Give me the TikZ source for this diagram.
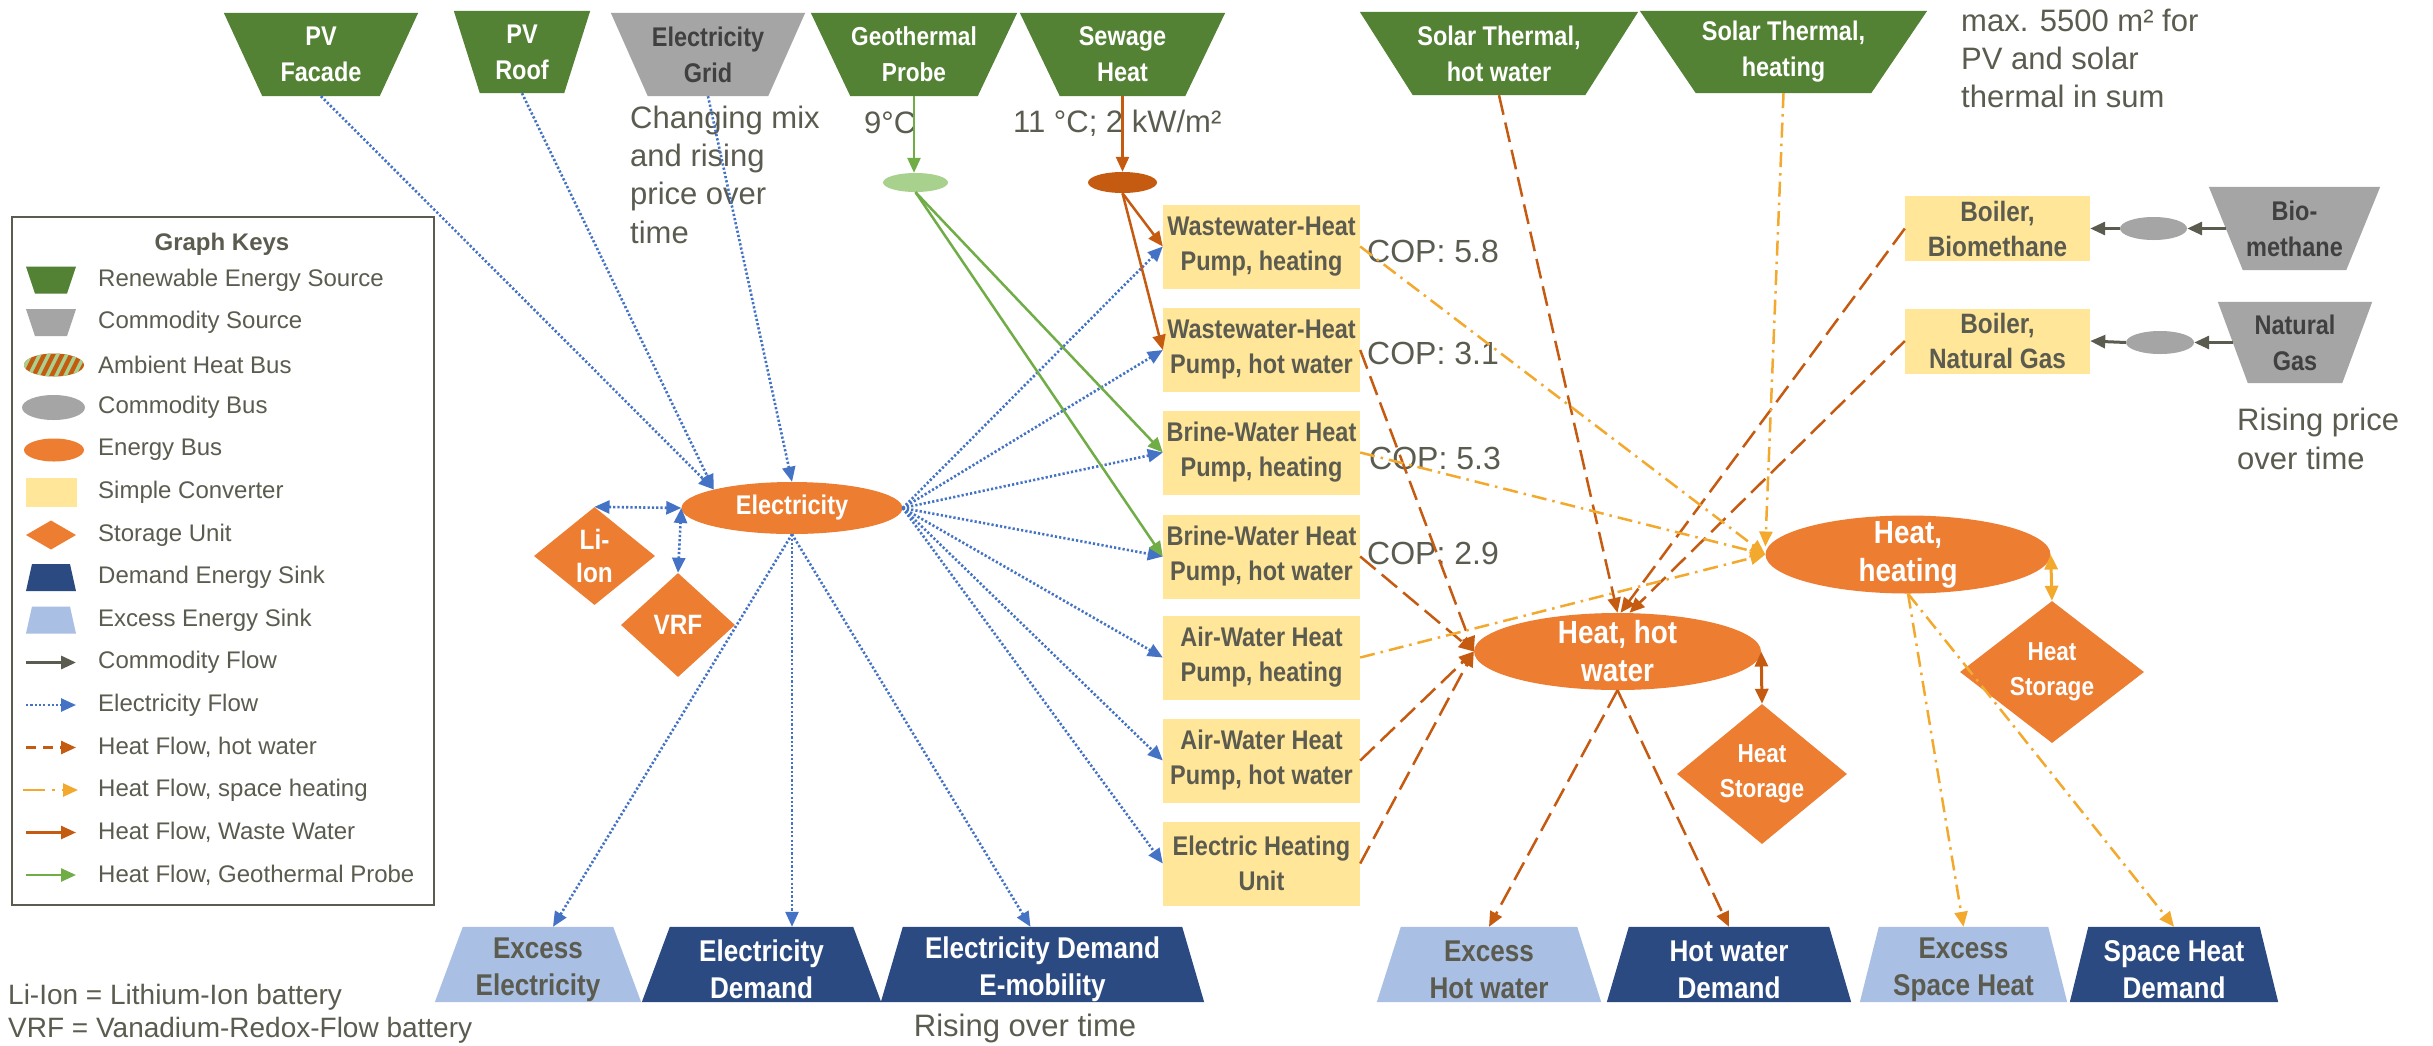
\documentclass[tikz,border=0pt]{standalone}
\usepackage{fontspec}
\setmainfont{Liberation Sans}
\newfontfamily\nodefont[FakeStretch=0.87]{Liberation Sans}
\usetikzlibrary{arrows.meta,shapes.geometric,backgrounds}
\definecolor{srcgreen}{HTML}{548235}
\definecolor{comgray}{HTML}{A5A5A5}
\definecolor{busorange}{HTML}{ED7D31}
\definecolor{convyellow}{HTML}{FFE699}
\definecolor{demblue}{HTML}{2B4A82}
\definecolor{excblue}{HTML}{A9BFE3}
\definecolor{txtgray}{HTML}{5B5B4F}
\definecolor{darktxt}{HTML}{404040}
\definecolor{elblue}{HTML}{4472C4}
\definecolor{hwbrown}{HTML}{C55A11}
\definecolor{shyellow}{HTML}{F2A92E}
\definecolor{geogreen}{HTML}{70AD47}
\definecolor{geolight}{HTML}{A9D18E}
\newcommand\srctrap[3]{\fill[#2] (#1.north west) -- (#1.north east) -- ([xshift=-#3pt]#1.south east) -- ([xshift=#3pt]#1.south west) -- cycle;}
\newcommand\sinktrap[3]{\fill[#2] ([xshift=#3pt]#1.north west) -- ([xshift=-#3pt]#1.north east) -- (#1.south east) -- (#1.south west) -- cycle;}
\tikzset{
  lbl/.style={font=\nodefont\bfseries\fontsize{27}{36}\selectfont, align=center, inner sep=0pt},
  lblw/.style={lbl, text=white},
  lblg/.style={lbl, text=txtgray},
  lblS/.style={lbl, font=\nodefont\bfseries\fontsize{30}{37}\selectfont, yshift=-5pt},
  lblH/.style={lblw, font=\nodefont\bfseries\fontsize{32}{38}\selectfont},
  lblHS/.style={lblw, font=\nodefont\bfseries\fontsize{26}{35}\selectfont},
  lblL/.style={lblw, font=\nodefont\bfseries\fontsize{28}{33}\selectfont},
  lblG/.style={lblw, font=\nodefont\bfseries\fontsize{26}{36}\selectfont},
  ann/.style={font=\fontsize{31}{38.3}\selectfont, text=txtgray, align=left, inner sep=0pt},
  keytxt/.style={font=\fontsize{24}{28}\selectfont, text=txtgray, anchor=west, inner sep=0pt},
  rbox/.style={rectangle, inner sep=0pt, draw=none},
  sinkbox/.style={rbox, minimum height=75pt},
  conv/.style={rbox, fill=convyellow, minimum width=197pt, minimum height=84pt, lblg, font=\nodefont\bfseries\fontsize{27}{35}\selectfont},
  boiler/.style={rbox, fill=convyellow, minimum width=185pt, minimum height=65pt, lblg, font=\nodefont\bfseries\fontsize{28}{35}\selectfont},
  bus/.style={ellipse, inner sep=0pt, draw=none, fill=busorange},
  stor/.style={diamond, inner sep=0pt, draw=none, fill=busorange},
  arr/.style={-{Triangle[length=15pt,width=13pt]}},
  dtip/.style={{Triangle[length=15pt,width=13pt]}-{Triangle[length=15pt,width=13pt]}},
  elflow/.style={draw=elblue, line width=2.6pt, dash pattern=on 2.2pt off 2.1pt},
  hwflow/.style={draw=hwbrown, line width=2.5pt, dash pattern=on 20pt off 8pt},
  shflow/.style={draw=shyellow, line width=2.5pt, dash pattern=on 15pt off 6pt on 2.5pt off 6pt},
  wwflow/.style={draw=hwbrown, line width=2.5pt},
  gtflow/.style={draw=geogreen, line width=2.5pt},
  cmflow/.style={draw=txtgray, line width=3pt},
}
\begin{document}
\begin{tikzpicture}[x=1pt,y=-1pt]
\useasboundingbox (0,0) rectangle (2433,1045);
\begin{scope}[on background layer]
  \fill[white] (0,0) rectangle (2433,1045);
\end{scope}

% ---------- sources ----------
\node[rbox, minimum width=194pt, minimum height=83pt, lblw] (pvf) at (321,54.5) {PV\\Facade};
\node[rbox, minimum width=136pt, minimum height=82pt, lblw] (pvr) at (522,52) {PV\\Roof};
\node[rbox, minimum width=194pt, minimum height=83pt, lbl, text=darktxt] (grid) at (708,54.5) {Electricity\\Grid};
\node[rbox, minimum width=206pt, minimum height=83pt, lblG] (geo) at (914,54.5) {Geothermal\\Probe};
\node[rbox, minimum width=205pt, minimum height=83pt, lblw] (sew) at (1122.5,54.5) {Sewage\\Heat};
\node[rbox, minimum width=278pt, minimum height=83pt, lblw] (sthw) at (1499,53.5) {Solar Thermal,\\hot water};
\node[rbox, minimum width=287pt, minimum height=82pt, lblw] (sth) at (1783.5,52) {Solar Thermal,\\heating};
\node[rbox, minimum width=171pt, minimum height=83pt, lbl, text=darktxt] (bms) at (2294.5,228.5) {Bio-\\methane};
\node[rbox, minimum width=154pt, minimum height=81pt, lbl, text=darktxt] (ngs) at (2295,342.5) {Natural\\Gas};

% ---------- sinks ----------
\node[sinkbox, minimum width=206pt, label={[lblS, text=txtgray]center:{Excess\\Electricity}}] (exel) at (538,964.5) {};
\node[sinkbox, minimum width=239pt, label={[lblS, text=white]center:{Electricity\\Demand}}] (edem) at (761.5,964.5) {};
\node[sinkbox, minimum width=323pt, label={[lblS, text=white]center:{Electricity Demand\\E-mobility}}] (emob) at (1042.5,964.5) {};
\node[sinkbox, minimum width=224pt, label={[lblS, text=txtgray]center:{Excess\\Hot water}}] (exhw) at (1489,964.5) {};
\node[sinkbox, minimum width=244pt, label={[lblS, text=white]center:{Hot water\\Demand}}] (hwd) at (1729,964.5) {};
\node[sinkbox, minimum width=207pt, label={[lblS, text=txtgray]center:{Excess\\Space Heat}}] (exsh) at (1963.5,964.5) {};
\node[sinkbox, minimum width=208pt, label={[lblS, text=white]center:{Space Heat\\Demand}}] (shd) at (2174,964.5) {};

\begin{scope}[on background layer]
  \srctrap{pvf}{srcgreen}{38.5}
  \srctrap{pvr}{srcgreen}{26}
  \srctrap{grid}{comgray}{37}
  \srctrap{geo}{srcgreen}{39.5}
  \srctrap{sew}{srcgreen}{40}
  \srctrap{sthw}{srcgreen}{53}
  \srctrap{sth}{srcgreen}{56}
  \srctrap{bms}{comgray}{34}
  \srctrap{ngs}{comgray}{30}
  \sinktrap{exel}{excblue}{28}
  \sinktrap{edem}{demblue}{28}
  \sinktrap{emob}{demblue}{22}
  \sinktrap{exhw}{excblue}{24}
  \sinktrap{hwd}{demblue}{22}
  \sinktrap{exsh}{excblue}{19}
  \sinktrap{shd}{demblue}{18.5}
\end{scope}

% ---------- converters ----------
\node[conv] (wwh) at (1261.5,246.5) {Wastewater-Heat\\Pump, heating};
\node[conv] (wwhw) at (1261.5,350) {Wastewater-Heat\\Pump, hot water};
\node[conv] (bwh) at (1261.5,452.5) {Brine-Water Heat\\Pump, heating};
\node[conv] (bwhw) at (1261.5,556.5) {Brine-Water Heat\\Pump, hot water};
\node[conv] (awh) at (1261.5,657.5) {Air-Water Heat\\Pump, heating};
\node[conv] (awhw) at (1261.5,760.5) {Air-Water Heat\\Pump, hot water};
\node[conv] (ehu) at (1261.5,863.5) {Electric Heating\\Unit};
\node[boiler] (bbio) at (1997.5,228.5) {Boiler,\\Biomethane};
\node[boiler] (bng) at (1997.5,341) {Boiler,\\Natural Gas};

% ---------- buses ----------
\node[bus, minimum width=221pt, minimum height=52pt, label={[lblw]center:Electricity}] (elec) at (792,508) {};
\node[bus, minimum width=287pt, minimum height=77pt, label={[lblH]center:{Heat, hot\\water}}] (hhw) at (1617.5,651.5) {};
\node[bus, minimum width=285pt, minimum height=78pt, label={[lblH]center:{Heat,\\heating}}] (hh) at (1908,554.5) {};
\node[bus, fill=geolight, minimum width=65pt, minimum height=19pt] (geobus) at (915.5,182.5) {};
\node[bus, fill=hwbrown, minimum width=69pt, minimum height=21pt] (sewbus) at (1122.5,182.5) {};
\node[bus, fill=comgray, minimum width=67pt, minimum height=23pt] (bmbus) at (2153.5,228.5) {};
\node[bus, fill=comgray, minimum width=68pt, minimum height=23pt] (ngbus) at (2160,342.5) {};

% ---------- storages ----------
\node[stor, minimum width=121pt, minimum height=98pt, label={[lblL]center:{Li-\\Ion}}] (li) at (594.5,556) {};
\node[stor, minimum width=114pt, minimum height=104pt, label={[lblL]center:VRF}] (vrf) at (678,625) {};
\node[stor, minimum width=170pt, minimum height=140pt, label={[lblHS]center:{Heat\\Storage}}] (hsthw) at (1762,774) {};
\node[stor, minimum width=184pt, minimum height=142pt, label={[lblHS]center:{Heat\\Storage}}] (hsth) at (2052,672) {};

% ---------- annotations ----------
\node[ann, anchor=west] (chg) at (630,174.5) {Changing mix\\and rising\\price over\\time};
\node[ann, anchor=west] (t9) at (864,123) {9°C};
\node[ann, anchor=west] (t11) at (1013,123) {11 °C; 2 kW/m²};
\node[ann, anchor=west] (maxa) at (1961,58.5) {max. 5500 m² for\\PV and solar\\thermal in sum};
\node[ann, anchor=west] (rp) at (2237,439) {Rising price\\over time};
\node[ann] (rot) at (1025,1028) {Rising over time};
\node[ann, font=\fontsize{32}{38}\selectfont, anchor=west] (cop1) at (1367,251) {COP: 5.8};
\node[ann, font=\fontsize{32}{38}\selectfont, anchor=west] (cop2) at (1367,353) {COP: 3.1};
\node[ann, font=\fontsize{32}{38}\selectfont, anchor=west] (cop3) at (1369,458) {COP: 5.3};
\node[ann, font=\fontsize{32}{38}\selectfont, anchor=west] (cop4) at (1367,553) {COP: 2.9};
\node[ann, font=\fontsize{28}{33}\selectfont, anchor=west] (n1) at (8,997) {Li-Ion = Lithium-Ion battery};
\node[ann, font=\fontsize{28}{33}\selectfont, anchor=west] (n2) at (8,1030) {VRF = Vanadium-Redox-Flow battery};

% ---------- electricity flows ----------
\draw[elflow,arr] (pvf.south) -- (elec.north west);
\draw[elflow,arr] (pvr.south) -- (elec.north west);
\draw[elflow,arr] (grid.south) -- (elec.north);
\draw[elflow,dtip] (li.north) -- (elec.west);
\draw[elflow,dtip] (vrf.north) -- (elec.west);
\foreach \c in {wwh,wwhw,bwh,bwhw,awh,awhw,ehu}
  \draw[elflow,arr] (elec.east) -- (\c.west);
\draw[elflow,arr] (elec.south) -- ([xshift=15pt]exel.north);
\draw[elflow,arr] (elec.south) -- (elec.south |- edem.north);
\draw[elflow,arr] (elec.south) -- ([xshift=-12pt]emob.north);

% ---------- geothermal / sewage ----------
\draw[gtflow,arr] (geo.south) -- (geo.south |- geobus.north);
\draw[wwflow,arr] (sew.south) -- (sewbus.north);
\draw[gtflow,arr] (geobus.south) -- (bwh.west);
\draw[gtflow,arr] (geobus.south) -- (bwhw.west);
\draw[wwflow,arr] (sewbus.south) -- (wwh.west);
\draw[wwflow,arr] (sewbus.south) -- (wwhw.west);

% ---------- hot water ----------
\draw[hwflow,arr] (sthw.south) -- (hhw.north);
\draw[hwflow,arr] (wwhw.east) -- (hhw.west);
\draw[hwflow,arr] (bwhw.east) -- (hhw.west);
\draw[hwflow,arr] (awhw.east) -- (hhw.west);
\draw[hwflow,arr] (ehu.east) -- (hhw.west);
\draw[hwflow,arr] (bbio.west) -- ([xshift=3pt]hhw.north);
\draw[hwflow,arr] (bng.west) -- ([xshift=12pt]hhw.north);
\draw[hwflow,solid,line width=3pt,dtip] (hhw.east) -- (hsthw.north);
\draw[hwflow,arr] (hhw.south) -- (exhw.north);
\draw[hwflow,arr] (hhw.south) -- (hwd.north);

% ---------- space heating ----------
\draw[shflow,arr] (sth.south) -- ([yshift=8pt]hh.west);
\draw[shflow,arr] (wwh.east) -- (hh.west);
\draw[shflow,arr] (bwh.east) -- (hh.west);
\draw[shflow,arr] (awh.east) -- (hh.west);
\draw[shflow,solid,line width=3pt,dtip] (hh.east) -- (hsth.north);
\draw[shflow,arr] (hh.south) -- (exsh.north);
\draw[shflow,arr] (hh.south) -- (shd.north);

% ---------- commodity ----------
\draw[cmflow,arr] ([xshift=17pt]bms.west) -- (bmbus.east);
\draw[cmflow,arr] (bmbus.west) -- (bbio.east);
\draw[cmflow,arr] ([xshift=15pt]ngs.west) -- (ngbus.east);
\draw[cmflow,arr] (ngbus.west) -- (bng.east);

% ---------- legend ----------
\draw[txtgray, line width=2.5pt] (12,217) rectangle (434,905);
\node[font=\bfseries\fontsize{24}{28}\selectfont, text=txtgray, inner sep=0pt] (gk) at (222,244) {Graph Keys};
\fill[srcgreen] (26,266.5) -- (76,266.5) -- (67,293.5) -- (35,293.5) -- cycle;
\fill[comgray] (26,309) -- (76,309) -- (67,336) -- (35,336) -- cycle;
\begin{scope}
  \clip (54,365) ellipse [x radius=30, y radius=11.5];
  \fill[hwbrown] (22,352) rectangle (86,378);
  \foreach \s in {10,19,...,82}
    \draw[geolight, line width=3.5pt] (\s,378) -- (\s+13,352);
\end{scope}
\fill[comgray] (53.5,407.5) ellipse [x radius=31.5, y radius=12.5];
\fill[busorange] (54,450) ellipse [x radius=30, y radius=11.5];
\fill[convyellow] (26,478) rectangle (77,507);
\fill[busorange] (26,535) -- (51,520.5) -- (76,535) -- (51,549.5) -- cycle;
\fill[demblue] (32,564) -- (70,564) -- (76,591) -- (26,591) -- cycle;
\fill[excblue] (32,606.5) -- (70,606.5) -- (76,633.5) -- (26,633.5) -- cycle;
\draw[cmflow,arr] (26,662.5) -- (76,662.5);
\draw[elflow,arr] (26,705) -- (76,705);
\draw[hwflow,dash pattern=on 10pt off 7pt,arr] (26,747.5) -- (76,747.5);
\draw[shflow,dash pattern=on 22pt off 7pt on 3pt off 7pt,arr] (23,790) -- (78,790);
\draw[wwflow,arr] (26,832.5) -- (76,832.5);
\draw[gtflow,arr] (26,875) -- (76,875);
\node[keytxt] (k1) at (98,280) {Renewable Energy Source};
\node[keytxt] (k2) at (98,322.5) {Commodity Source};
\node[keytxt] (k3) at (98,365) {Ambient Heat Bus};
\node[keytxt] (k4) at (98,407.5) {Commodity Bus};
\node[keytxt] (k5) at (98,450) {Energy Bus};
\node[keytxt] (k6) at (98,492.5) {Simple Converter};
\node[keytxt] (k7) at (98,535) {Storage Unit};
\node[keytxt] (k8) at (98,577.5) {Demand Energy Sink};
\node[keytxt] (k9) at (98,620) {Excess Energy Sink};
\node[keytxt] (k10) at (98,662.5) {Commodity Flow};
\node[keytxt] (k11) at (98,705) {Electricity Flow};
\node[keytxt] (k12) at (98,747.5) {Heat Flow, hot water};
\node[keytxt] (k13) at (98,790) {Heat Flow, space heating};
\node[keytxt] (k14) at (98,832.5) {Heat Flow, Waste Water};
\node[keytxt] (k15) at (98,875) {Heat Flow, Geothermal Probe};
\end{tikzpicture}
\end{document}
